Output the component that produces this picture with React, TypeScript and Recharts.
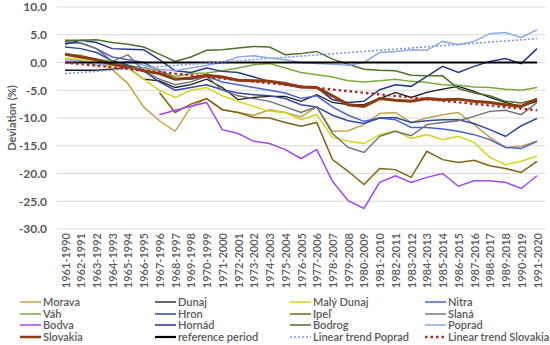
import React from 'react';
import { LineChart, Line, XAxis, YAxis, CartesianGrid, Legend, Label } from 'recharts';

const categories = [
  '1961-1990', '1962-1991', '1963-1992', '1964-1993', '1965-1994', '1966-1995', '1967-1996', '1968-1997',
  '1969-1998', '1970-1999', '1971-2000', '1972-2001', '1973-2002', '1974-2003', '1975-2004', '1976-2005',
  '1977-2006', '1978-2007', '1979-2008', '1980-2009', '1981-2010', '1982-2011', '1983-2012', '1984-2013',
  '1985-2014', '1986-2015', '1987-2016', '1988-2017', '1989-2018', '1990-2019', '1991-2020',
];

const morava = [1.5, 1.0, 0.5, -1.3, -3.8, -8.0, -10.5, -12.4, -8.0, -6.5, -8.5, -9.0, -9.5, -8.5, -9.0, -9.8, -8.0, -12.4, -12.3, -11.2, -9.2, -9.0, -10.8, -10.0, -9.4, -9.0, -11.2, -13.5, -15.3, -15.1, -14.2];
const dunaj = [-1.4, -1.4, -1.4, -1.2, -0.9, -3.0, -3.3, -4.5, -4.0, -3.0, -4.5, -6.7, -6.3, -6.1, -6.1, -7.0, -5.8, -7.2, -7.6, -7.6, -6.5, -5.4, -6.3, -5.4, -4.8, -4.3, -5.2, -6.3, -7.2, -7.9, -7.0];
const malyDunaj = [0.8, 0.5, 0.0, -0.5, -0.8, -3.0, -5.0, -6.3, -5.0, -4.5, -6.0, -7.0, -7.9, -8.8, -9.0, -10.3, -9.4, -13.5, -14.2, -14.6, -13.0, -12.3, -13.7, -13.0, -13.9, -13.3, -14.4, -17.1, -18.4, -17.8, -16.9];
const nitra = [3.5, 3.5, 2.5, 1.0, 0.5, 0.0, -1.5, -3.0, -3.0, -2.5, -3.5, -4.0, -4.5, -5.0, -5.5, -6.5, -6.0, -8.0, -9.5, -10.6, -10.0, -10.3, -11.7, -11.7, -12.0, -12.4, -13.0, -13.9, -15.3, -15.5, -14.2];
const vah = [1.5, 1.3, 0.5, 0.3, -0.5, -1.0, -1.5, -2.5, -2.0, -1.9, -1.5, -1.0, -0.4, -0.2, -1.0, -1.8, -2.2, -2.6, -3.3, -3.5, -3.3, -3.0, -3.4, -3.6, -4.0, -4.1, -4.4, -4.5, -4.8, -5.0, -4.5];
const hron = [2.8, 2.5, 1.8, 0.3, -0.5, -1.5, -3.5, -5.0, -4.5, -4.0, -4.9, -5.5, -5.8, -6.0, -6.5, -7.6, -8.0, -9.5, -10.5, -11.0, -10.0, -9.9, -10.8, -10.5, -10.3, -10.3, -11.0, -12.1, -13.3, -11.4, -10.1];
const ipel = [null, null, null, null, null, null, -5.4, -9.0, -7.5, -6.5, -8.5, -9.0, -9.9, -10.0, -10.8, -11.5, -10.8, -17.5, -19.6, -22.0, -19.1, -19.3, -20.7, -16.0, -17.5, -18.0, -17.6, -18.6, -19.1, -19.8, -17.8];
const slana = [3.8, 3.5, 2.5, 0.2, 1.4, -1.5, -3.0, -4.0, -3.5, -2.5, -5.0, -6.0, -6.5, -7.0, -8.0, -9.0, -8.0, -12.8, -15.3, -16.2, -13.3, -12.4, -13.2, -11.2, -10.8, -10.5, -9.7, -8.8, -8.6, -9.4, -7.2];
const bodva = [null, null, null, null, null, null, -9.4, -8.6, -7.9, -7.2, -12.1, -12.8, -14.2, -14.6, -15.7, -17.3, -15.7, -21.4, -24.9, -26.3, -21.6, -20.4, -21.6, -20.7, -20.0, -22.3, -21.3, -21.3, -21.6, -22.7, -20.4];
const hornad = [3.3, 4.0, 3.6, 2.5, 2.4, 2.3, 0.5, -1.5, -1.8, -1.0, -1.6, -1.8, -2.6, -3.4, -4.0, -4.5, -4.5, -6.7, -7.2, -7.0, -4.9, -4.0, -4.3, -2.5, -0.7, -1.8, -0.7, 0.2, 0.7, -0.2, 2.5];
const bodrog = [4.0, 4.0, 4.1, 3.6, 3.3, 2.8, 1.5, 0.2, 1.0, 2.2, 2.3, 2.6, 2.9, 2.8, 1.4, 1.6, 2.0, 0.6, -0.3, -1.2, -1.4, -1.5, -2.3, -2.4, -2.4, -4.7, -5.5, -6.0, -7.0, -7.3, -6.6];
const poprad = [0.5, 0.3, -0.5, -0.3, 0.2, -0.5, -1.2, -1.5, -1.0, -0.5, 0.0, 1.0, 1.2, 0.8, 0.5, 0.0, -0.2, -0.3, -0.5, 0.0, 1.8, 2.0, 2.3, 2.2, 3.8, 3.2, 3.8, 5.2, 5.4, 4.5, 5.9];
const slovakia = [1.5, 1.0, 0.5, -0.3, -0.8, -1.5, -2.0, -3.0, -2.8, -2.3, -2.6, -3.2, -3.3, -3.4, -3.8, -4.4, -4.5, -6.0, -7.6, -7.9, -6.5, -6.8, -7.0, -6.5, -6.7, -6.6, -7.0, -7.2, -7.6, -7.9, -6.6];
const referencePeriod = [0, 0, 0, 0, 0, 0, 0, 0, 0, 0, 0, 0, 0, 0, 0, 0, 0, 0, 0, 0, 0, 0, 0, 0, 0, 0, 0, 0, 0, 0, 0];
const trendPoprad = [-2.0, -1.79, -1.58, -1.37, -1.16, -0.95, -0.74, -0.53, -0.32, -0.11, 0.1, 0.31, 0.52, 0.73, 0.94, 1.15, 1.36, 1.57, 1.78, 1.99, 2.2, 2.41, 2.62, 2.83, 3.04, 3.25, 3.46, 3.67, 3.88, 4.09, 4.3];
const trendSlovakia = [0.0, -0.29, -0.57, -0.86, -1.15, -1.43, -1.72, -2.01, -2.29, -2.58, -2.87, -3.15, -3.44, -3.73, -4.01, -4.3, -4.59, -4.87, -5.16, -5.45, -5.73, -6.02, -6.31, -6.59, -6.88, -7.17, -7.45, -7.74, -8.03, -8.31, -8.6];

const yTicks = [10, 5, 0, -5, -10, -15, -20, -25, -30];

const series = [
  { key: 'Morava', values: morava, color: '#C4A247', width: 1.5, dash: undefined },
  { key: 'Dunaj', values: dunaj, color: '#1a1a1a', width: 1.3, dash: undefined },
  { key: 'Malý Dunaj', values: malyDunaj, color: '#D8D21A', width: 1.5, dash: undefined },
  { key: 'Nitra', values: nitra, color: '#4A62D6', width: 1.5, dash: undefined },
  { key: 'Váh', values: vah, color: '#7BAA3C', width: 1.5, dash: undefined },
  { key: 'Hron', values: hron, color: '#3349A8', width: 1.5, dash: undefined },
  { key: 'Ipeľ', values: ipel, color: '#7D6414', width: 1.5, dash: undefined },
  { key: 'Slaná', values: slana, color: '#6E6E6E', width: 1.4, dash: undefined },
  { key: 'Bodva', values: bodva, color: '#A247F5', width: 1.5, dash: undefined },
  { key: 'Hornád', values: hornad, color: '#26388C', width: 1.5, dash: undefined },
  { key: 'Bodrog', values: bodrog, color: '#4F7028', width: 1.5, dash: undefined },
  { key: 'Poprad', values: poprad, color: '#8FAAE8', width: 1.5, dash: undefined },
  { key: 'Slovakia', values: slovakia, color: '#8A3D0E', width: 3, dash: undefined },
  { key: 'reference period', values: referencePeriod, color: '#000000', width: 2.2, dash: undefined },
  { key: 'Linear trend Poprad', values: trendPoprad, color: '#7D97E6', width: 1.6, dash: '2 2' },
  { key: 'Linear trend Slovakia', values: trendSlovakia, color: '#B3261E', width: 2.4, dash: '2.5 3' },
];

const data = categories.map((c, i) => {
  const row: Record<string, any> = { name: c };
  series.forEach((s) => { row[s.key] = s.values[i]; });
  return row;
});

const FONT = 'Lato, "Liberation Sans", sans-serif';
const TEXT = '#595959';

const XTick = (props: any) => {
  const { x, y, payload } = props;
  return (
    <text x={x} y={y} transform={`rotate(-90 ${x} ${y})`} textAnchor="end" dominantBaseline="central"
      fontSize={11} fontFamily={FONT} fontWeight={600} fill={TEXT}>
      {payload.value}
    </text>
  );
};

const YLabel = (props: any) => {
  const vb = props.viewBox || {};
  const cy = vb.y + vb.height / 2;
  const cx = 11;
  return (
    <text x={cx} y={cy} transform={`rotate(-90 ${cx} ${cy})`} textAnchor="middle" dominantBaseline="central"
      fontSize={11} fontFamily={FONT} fontWeight={700} fill={TEXT}>
      Deviation (%)
    </text>
  );
};

const colLeft = [20, 155, 290, 425];

const renderLegend = () => (
  <div style={{ position: 'relative', width: 550, height: 50, fontFamily: FONT, fontSize: 11, fontWeight: 600, color: TEXT }}>
    {series.map((s, k) => {
      const col = k % 4;
      const row = Math.floor(k / 4);
      return (
        <div key={s.key} style={{ position: 'absolute', left: colLeft[col], top: 1 + row * 11.7, height: 12, display: 'flex', alignItems: 'center', whiteSpace: 'nowrap', lineHeight: '12px' }}>
          <svg width={21} height={8} style={{ marginRight: 2 }}>
            <line x1={0} y1={4} x2={21} y2={4} stroke={s.color} strokeWidth={Math.min(s.width, 2.5)} strokeDasharray={s.dash} />
          </svg>
          <span>{s.key}</span>
        </div>
      );
    })}
  </div>
);

export default function App() {
  return (
    <div style={{ position: 'absolute', left: 0, top: 0, width: 550, height: 345, background: '#fff' }}>
      <LineChart width={550} height={345} data={data} margin={{ top: 7, right: 5, bottom: 0, left: 0 }}>
        <CartesianGrid vertical={false} stroke="#d9d9d9" strokeWidth={1} />
        <XAxis dataKey="name" interval={0} tick={<XTick />} tickLine={false} axisLine={false}
          tickSize={0} tickMargin={4} height={66} padding={{ left: 8, right: 8 }} />
        <YAxis domain={[-30, 10]} ticks={yTicks} interval={0} width={57} tickLine={false} axisLine={false}
          tickSize={0} tickMargin={10} tickFormatter={(v: number) => v.toFixed(1)}
          tick={{ fontSize: 12, fontFamily: FONT, fontWeight: 700, fill: TEXT }}>
          <Label content={<YLabel />} />
        </YAxis>
        <Legend verticalAlign="bottom" height={50} content={renderLegend} wrapperStyle={{ left: 0, width: 550 }} />
        {series.map((s) => (
          <Line key={s.key} type="linear" dataKey={s.key} stroke={s.color} strokeWidth={s.width}
            strokeDasharray={s.dash} dot={false} activeDot={false} isAnimationActive={false} connectNulls={false} />
        ))}
      </LineChart>
    </div>
  );
}
